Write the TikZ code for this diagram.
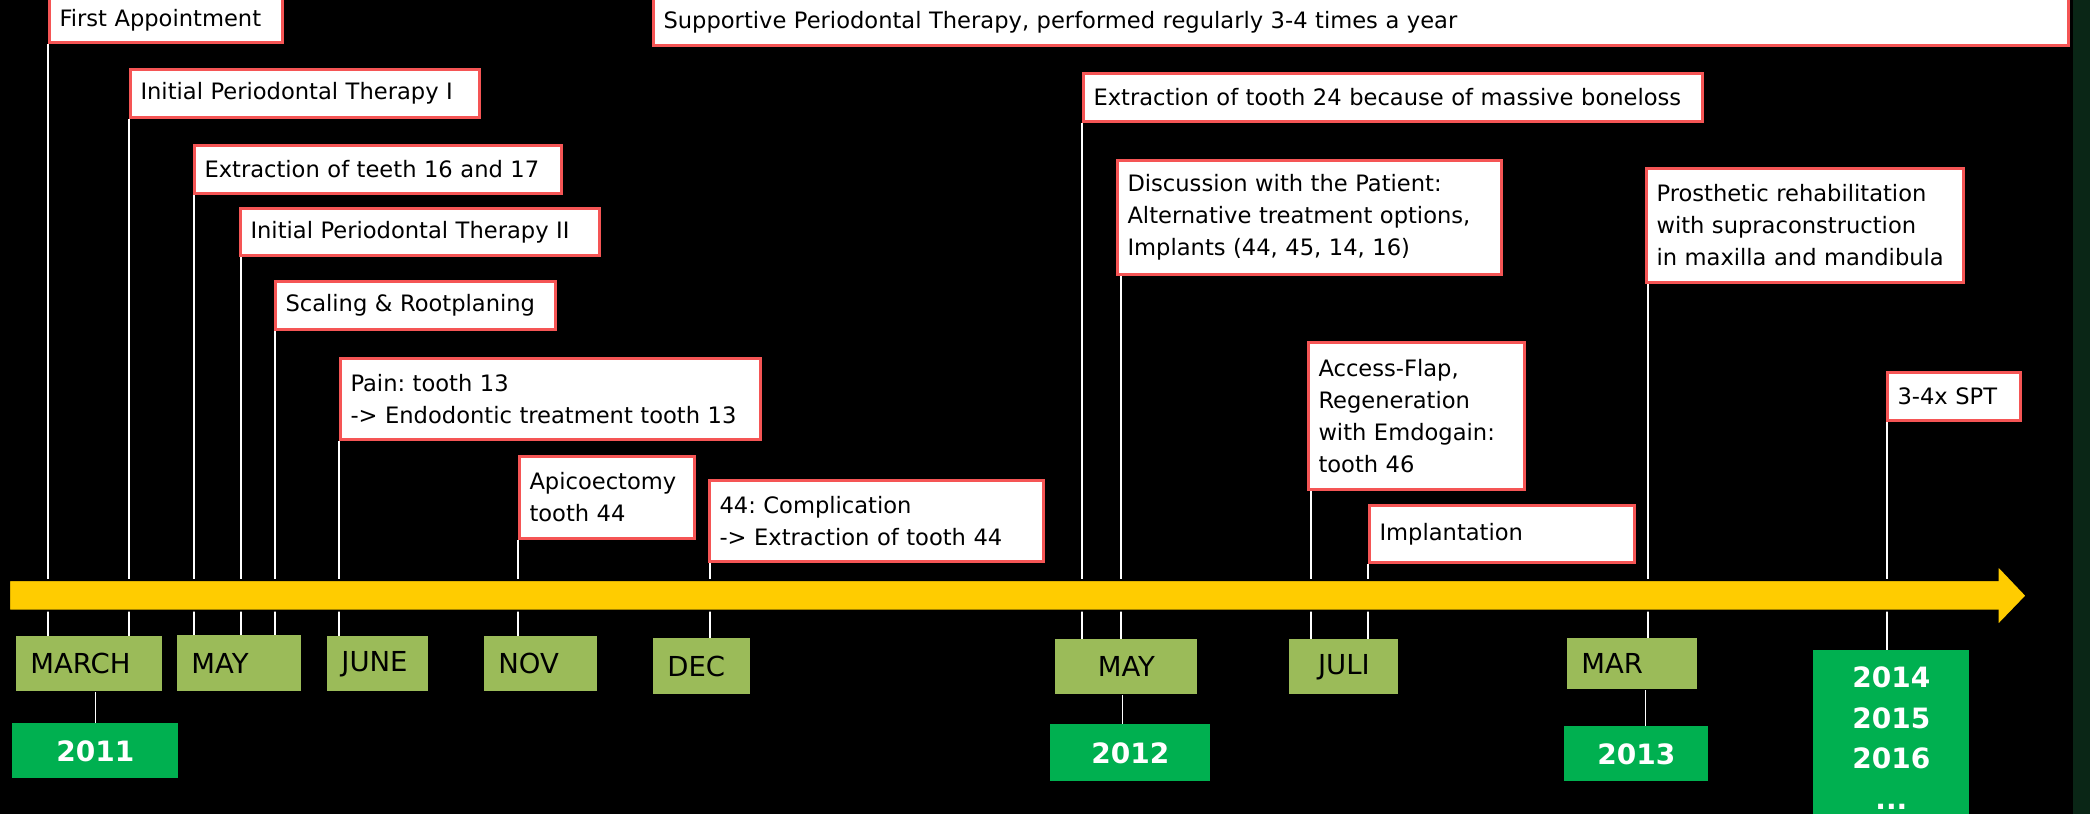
\documentclass[tikz,border=0pt]{standalone}
\usepackage{fontspec}
\setmainfont{DejaVu Sans}
\frenchspacing
\definecolor{evred}{RGB}{245,85,85}
\definecolor{axisyellow}{RGB}{255,204,0}
\definecolor{monthgreen}{RGB}{155,187,89}
\definecolor{yeargreen}{RGB}{0,176,80}
\definecolor{stripgreen}{RGB}{10,38,22}

\begin{document}
\begin{tikzpicture}[x=0.5pt, y=-0.5pt,
 ev/.style={draw=evred, fill=white, line width=1.5pt, anchor=north west, align=left,
 inner xsep=5pt, inner ysep=0pt, font=\fontsize{11.3pt}{16pt}\selectfont},
 mon/.style={fill=monthgreen, anchor=north west, align=left, inner xsep=7pt, inner ysep=0pt,
 font=\fontsize{13.75pt}{16pt}\selectfont},
 yr/.style={fill=yeargreen, text=white, anchor=north west, inner sep=0pt, align=center,
 font=\bfseries\fontsize{14pt}{20.25pt}\selectfont},
 tick/.style={white, line width=0.7pt}]
\fill[black] (0,0) rectangle (2090,815);
\fill[stripgreen] (2073,0) rectangle (2090,815);

\node[ev, text width=106.5pt, minimum height=22pt] (e1) at (48,-3) {First Appointment};
\node[ev, text width=697.5pt, minimum height=23.5pt] (e2) at (652,-3)
 {Supportive Periodontal Therapy, performed regularly 3-4 times a year};
\node[ev, text width=164.5pt, minimum height=24pt] (e3) at (129,68) {Initial Periodontal Therapy I};
\node[ev, text width=173.5pt, minimum height=24pt] (e4) at (193,144) {Extraction of teeth 16 and 17};
\node[ev, text width=169.5pt, minimum height=23.5pt] (e5) at (239,207) {Initial Periodontal Therapy II};
\node[ev, text width=130pt, minimum height=24pt] (e6) at (274,280) {Scaling \& Rootplaning};
\node[ev, text width=200pt, minimum height=40.5pt] (e7) at (339,357)
 {Pain: tooth 13\\-> Endodontic treatment tooth 13};
\node[ev, text width=77.5pt, minimum height=41pt] (e8) at (518,455) {Apicoectomy\\tooth 44};
\node[ev, text width=157pt, minimum height=40.5pt] (e9) at (708,479)
 {44: Complication\\-> Extraction of tooth 44};
\node[ev, text width=299.5pt, minimum height=24pt] (e10) at (1082,72)
 {Extraction of tooth 24 because of massive boneloss};
\node[ev, text width=182pt, minimum height=57pt] (e11) at (1116,159)
 {Discussion with the Patient:\\Alternative treatment options,\\Implants (44, 45, 14, 16)};
\node[ev, text width=98pt, minimum height=73.5pt] (e12) at (1307,341)
 {Access-Flap,\\Regeneration\\with Emdogain:\\tooth 46};
\node[ev, text width=122.5pt, minimum height=28.5pt] (e13) at (1368,504) {Implantation};
\node[ev, text width=148.5pt, minimum height=57pt] (e14) at (1645,167)
 {Prosthetic rehabilitation\\with supraconstruction\\in maxilla and mandibula};
\node[ev, text width=56.5pt, minimum height=24pt] (e15) at (1886,371) {3-4x SPT};

\node[mon, text width=59pt, minimum height=27.5pt] (m1) at (16,636) {MARCH};
\node[mon, text width=48pt, minimum height=28pt] (m2) at (177,635) {MAY};
\node[mon, text width=36.5pt, minimum height=27.5pt] (m3) at (327,636) {JUNE};
\node[mon, text width=42.5pt, minimum height=27.5pt] (m4) at (484,636) {NOV};
\node[mon, text width=34.5pt, minimum height=28pt] (m5) at (653,638) {DEC};
\node[mon, align=center, text width=57pt, minimum height=27.5pt] (m6) at (1055,639) {MAY};
\node[mon, align=center, text width=40.5pt, minimum height=27.5pt] (m7) at (1289,639) {JULI};
\node[mon, text width=51pt, minimum height=25.5pt] (m8) at (1567,638) {MAR};

\node[yr, minimum width=83pt, minimum height=27.5pt] (y1) at (12,723) {2011};
\node[yr, minimum width=80pt, minimum height=28.5pt] (y2) at (1050,724) {2012};
\node[yr, minimum width=72pt, minimum height=27.5pt] (y3) at (1564,726) {2013};
\node[yr, minimum width=78pt, inner ysep=8.25pt] (y4) at (1813,650) {2014\\2015\\2016\\...};

\foreach \e/\m/\s in {e1/m1/0, e3/m1/0, e4/m2/0.5, e5/m2/1, e6/m2/0.5, e7/m3/0, e8/m4/0,
 e9/m5/1, e10/m6/0, e11/m6/2.5, e12/m7/2, e13/m7/0, e14/m8/1.5, e15/y4/0.5}
 \draw[tick] ([xshift=\s pt]\e.south west) -- ([xshift=\s pt]\e.south west |- \m.north);
\foreach \y/\m/\s in {y1/m1/0, y2/m6/-4, y3/m8/4.5}
 \draw[tick] ([xshift=\s pt]\y.north) -- ([xshift=\s pt]\y.north |- \m.south);

\fill[axisyellow, draw=black, line width=1pt] (9,580) -- (1997.5,580) -- (1997.5,565)
 -- (2026.7,595.7) -- (1997.5,626) -- (1997.5,610.7) -- (9,610.7) -- cycle;

\pgfresetboundingbox
\useasboundingbox (0,0) rectangle (2090,813.5);
\end{tikzpicture}
\end{document}
